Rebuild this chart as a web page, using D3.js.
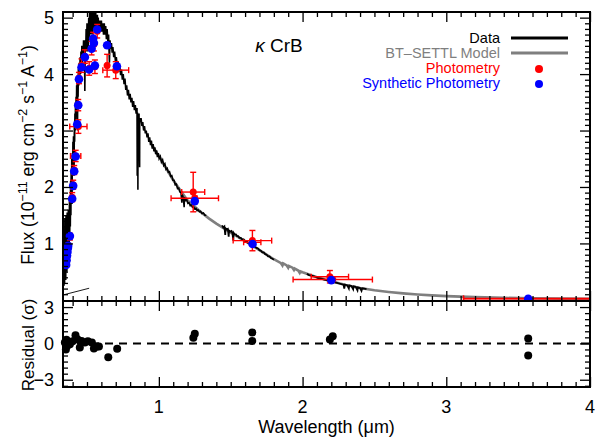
<!DOCTYPE html>
<html><head><meta charset="utf-8">
<script src="https://cdn.jsdelivr.net/npm/d3@7"></script>
<style>
body{margin:0;background:#fff;}
text{font-family:"Liberation Sans",Arial,Helvetica,sans-serif;}
</style></head>
<body><svg id="c" width="598" height="439"></svg>
<script>
// ---------- DATA ----------
const xTickLabels = ["1","2","3","4"];
const xTickValues = [1,2,3,4];
const yTickValues = [1,2,3,4,5];
const resTickValues = [-3,0,3];
const resTickLabels = ["\u22123","0","3"];

// observed spectrum (wavelength um, flux 1e-11)
const dataSpectrum = [
[0.340,0.25],[0.342,1.1],[0.344,0.3],[0.346,1.45],[0.348,0.5],[0.350,1.2],[0.352,0.35],[0.354,1.5],[0.356,0.6],[0.358,1.3],
[0.360,0.5],[0.362,1.55],[0.364,0.7],[0.366,1.2],[0.368,0.8],[0.370,1.6],[0.372,0.9],[0.374,1.4],[0.376,1.0],[0.378,1.8],
[0.380,1.2],[0.382,1.7],[0.384,1.3],[0.386,2.1],[0.388,1.5],[0.390,2.3],[0.392,1.9],[0.394,2.5],[0.396,1.7],[0.398,2.6],
[0.400,2.2],[0.402,2.8],[0.404,2.4],[0.406,2.9],[0.408,2.6],[0.410,2.2],[0.412,3.1],[0.414,2.8],[0.416,3.3],[0.418,3.0],
[0.420,3.5],[0.422,3.2],[0.424,3.6],[0.426,3.3],[0.428,3.8],[0.430,3.5],[0.432,3.9],[0.434,3.0],[0.436,3.9],[0.438,3.6],
[0.440,4.1],[0.443,3.8],[0.446,4.2],[0.449,3.9],[0.452,4.3],[0.455,4.0],[0.458,4.4],[0.461,4.1],[0.464,4.5],[0.467,4.2],
[0.470,4.5],[0.473,4.3],[0.476,4.6],[0.479,4.3],[0.482,4.6],[0.485,3.7],[0.488,4.6],[0.491,4.4],[0.494,4.8],[0.497,4.5],
[0.500,4.9],[0.503,4.4],[0.506,4.8],[0.509,4.5],[0.512,5.0],[0.515,4.6],[0.518,5.1],[0.521,4.7],[0.524,5.2],[0.527,4.7],
[0.530,5.3],[0.533,4.8],[0.536,5.2],[0.539,4.7],[0.542,5.1],[0.545,4.8],[0.548,5.25],[0.551,4.8],[0.554,5.1],[0.557,4.75],
[0.560,5.2],[0.563,4.8],[0.566,5.0],[0.569,4.75],[0.572,5.05],[0.575,4.75],[0.578,5.0],[0.581,4.75],[0.584,4.95],[0.587,4.75],
[0.590,4.95],[0.595,4.75],[0.600,4.95],[0.605,4.75],[0.610,4.9],[0.615,4.7],[0.620,4.9],[0.625,4.7],[0.630,4.85],[0.635,4.62],
[0.640,4.8],[0.645,4.58],[0.650,4.7],[0.656,4.2],[0.660,4.6],[0.665,4.45],[0.670,4.55],[0.675,4.38],[0.680,4.48],[0.686,4.3],
[0.692,4.4],[0.698,4.22],[0.704,4.3],[0.710,4.15],[0.716,4.22],[0.722,4.05],[0.728,4.15],[0.734,3.98],[0.740,4.08],[0.746,3.9],
[0.752,4.0],[0.758,3.82],[0.764,3.92],[0.770,3.72],[0.776,3.8],[0.782,3.62],[0.788,3.72],[0.794,3.55],[0.800,3.65],[0.806,3.5],
[0.812,3.58],[0.818,3.42],[0.824,3.52],[0.830,3.36],[0.836,3.45],[0.842,3.3],[0.848,3.4],[0.8495,2.2],[0.851,3.32],[0.8535,3.25],
[0.8542,1.95],[0.8548,3.3],[0.858,3.2],[0.862,3.3],[0.8662,2.35],[0.8668,3.22],[0.870,3.15],[0.876,3.22],[0.882,3.08],[0.888,3.15],
[0.894,3.0],[0.900,3.08],[0.906,2.95],[0.912,3.0],[0.918,2.88],[0.924,2.95],[0.930,2.8],[0.936,2.88],[0.942,2.74],[0.948,2.82],
[0.954,2.68],[0.960,2.76],[0.966,2.63],[0.972,2.7],[0.978,2.58],[0.984,2.65],[0.990,2.53],[0.996,2.6],[1.002,2.5],[1.010,2.54],
[1.018,2.44],[1.026,2.48],[1.034,2.38],[1.042,2.41],[1.050,2.31],[1.058,2.33],[1.066,2.26],[1.074,2.27],[1.082,2.19],[1.090,2.2],
[1.098,2.12],[1.106,2.12],[1.114,2.04],[1.122,2.05],[1.130,1.97],[1.138,1.98],[1.146,1.91],[1.154,1.9],[1.160,1.72],[1.162,1.87],
[1.170,1.81],[1.176,1.64],[1.178,1.82],[1.186,1.76],[1.194,1.77],[1.202,1.71],[1.210,1.72],[1.218,1.67],[1.226,1.68],[1.234,1.64],
[1.242,1.65],[1.250,1.61],[1.258,1.62],[1.266,1.58],[1.274,1.59],[1.282,1.56],[1.290,1.57],[1.300,1.53],[1.310,1.54],[1.320,1.5],
[1.330,1.5]
];
const dataSpectrum2 = [
[1.440,1.32],[1.448,1.28],[1.456,1.3],[1.462,1.15],[1.464,1.27],[1.472,1.25],[1.480,1.26],[1.486,1.12],[1.488,1.23],[1.496,1.21],
[1.504,1.22],[1.512,1.18],[1.518,1.05],[1.520,1.19],[1.528,1.16],[1.536,1.16],[1.544,1.13],[1.552,1.13],[1.560,1.1],[1.570,1.1],
[1.580,1.07],[1.590,1.07],[1.600,1.04],[1.610,1.04],[1.620,1.01],[1.630,1.01],[1.640,0.98],[1.650,0.98],[1.660,0.95],[1.670,0.94],
[1.680,0.92],[1.690,0.91],[1.700,0.88],[1.710,0.87],[1.720,0.84],[1.730,0.84],[1.740,0.81],[1.750,0.8],[1.760,0.77],[1.770,0.77],
[1.780,0.74],[1.790,0.73],[1.800,0.71]
];
const dataSpectrum3 = [
[2.030,0.46],[2.045,0.44],[2.060,0.43],[2.075,0.42],[2.090,0.41],[2.105,0.39],[2.120,0.38],[2.135,0.37],[2.150,0.36],[2.165,0.35],
[2.180,0.34],[2.195,0.33],[2.210,0.32],[2.225,0.31],[2.240,0.3],[2.255,0.29],[2.270,0.28],[2.285,0.27],[2.290,0.2],[2.295,0.27],
[2.310,0.26],[2.322,0.2],[2.325,0.255],[2.340,0.245],[2.352,0.19],[2.355,0.24],[2.370,0.23],[2.382,0.17],[2.385,0.22],[2.400,0.21],
[2.410,0.16],[2.415,0.205],[2.430,0.2],[2.445,0.19]
];
// BT-SETTL model
const modelSpectrum = [
[0.95,2.75],[1.0,2.55],[1.1,2.12],[1.2,1.76],[1.3,1.54],[1.35,1.44],[1.4,1.35],[1.45,1.27],[1.5,1.19],[1.6,1.04],[1.7,0.88],
[1.8,0.72],[1.85,0.65],[1.86,0.61],[1.865,0.645],[1.89,0.61],[1.90,0.57],[1.905,0.6],[1.93,0.57],[1.94,0.53],[1.945,0.555],
[1.97,0.52],[1.98,0.48],[1.985,0.505],[2.0,0.49],[2.1,0.4],[2.2,0.33],[2.3,0.265],[2.4,0.21],[2.5,0.17],[2.6,0.14],
[2.7,0.115],[2.8,0.095],[2.9,0.08],[3.0,0.066],[3.2,0.048],[3.4,0.036],[3.6,0.028],[3.8,0.022],[4.0,0.017]
];
// stray line segment in the original figure
const strayLine = [[0.335,0.088],[0.515,0.206]];

// Photometry: wavelength, flux, x-error, y-error
const photWave = [0.357,0.363,0.369,0.381,0.397,0.404,0.411,0.421,0.440,0.439,0.444,0.462,0.485,0.515,0.532,0.543,0.548,0.555,0.571,0.640,0.700,1.239,1.25,1.651,1.65,2.21,2.19,3.57,3.57];
const photFlux = [0.66,0.84,0.95,1.12,1.82,2.04,2.30,2.55,3.07,3.45,3.93,4.15,4.31,4.10,4.46,4.62,4.53,4.13,4.76,4.15,4.07,1.91,1.80,1.05,1.02,0.36,0.41,0.025,0.02];
const photXerr = [0.004,0.004,0.004,0.006,0.006,0.006,0.006,0.036,0.06,0.01,0.01,0.01,0.01,0.01,0.01,0.01,0.01,0.01,0.01,0.01,0.09,0.08,0.165,0.134,0.06,0.276,0.13,0.45,0.45];
const photYerr = [0.05,0.05,0.05,0.06,0.08,0.08,0.08,0.1,0.12,0.1,0.1,0.12,0.12,0.12,0.12,0.12,0.12,0.12,0.12,0.2,0.15,0.35,0.04,0.18,0.03,0.02,0.11,0.005,0.005];

// Synthetic photometry
const synWave = [0.355,0.358,0.361,0.364,0.367,0.369,0.381,0.397,0.404,0.411,0.421,0.432,0.439,0.444,0.462,0.485,0.515,0.532,0.543,0.548,0.555,0.571,0.640,0.708,1.25,1.652,2.20,3.57];
const synFlux = [0.62,0.70,0.78,0.85,0.92,0.96,1.13,1.79,2.02,2.28,2.54,3.11,3.45,3.91,4.12,4.30,4.08,4.45,4.63,4.55,4.15,4.79,4.51,4.14,1.75,0.99,0.35,0.02];

// Residuals (sigma)
const resWave = [0.346,0.353,0.357,0.363,0.369,0.381,0.400,0.420,0.435,0.450,0.462,0.485,0.506,0.534,0.548,0.570,0.583,0.648,0.710,1.24,1.25,1.65,1.65,2.19,2.21,3.57,3.57];
const resVal  = [0.08,-0.5,0.3,-0.2,0.1,-0.08,0.17,0.67,0.33,-0.33,0.2,0.08,0.17,0.08,-0.42,-0.25,-0.25,-1.14,-0.44,0.47,0.8,0.9,0.2,0.33,0.6,0.4,-1.0];

// ---------- DRAW ----------
const svg = d3.select("#c");
const L=63, R=590, T=12, M=301, B=387;
const x = d3.scaleLinear().domain([0.333,4]).range([L,R]);
const y = d3.scaleLinear().domain([-0.02,5.1]).range([M,T]);
const yr = d3.scaleLinear().domain([-3.6,3.5]).range([B,M]);

svg.append("defs").append("clipPath").attr("id","clipTop")
  .append("rect").attr("x",L).attr("y",T).attr("width",R-L).attr("height",M-T);

const topG = svg.append("g").attr("clip-path","url(#clipTop)");
const line = d3.line().x(d=>x(d[0])).y(d=>y(d[1]));

topG.append("path").datum(modelSpectrum).attr("d",line)
  .attr("fill","none").attr("stroke","#7f7f7f").attr("stroke-width",2.6);
[dataSpectrum,dataSpectrum2,dataSpectrum3].forEach((ds,i)=>{
  topG.append("path").datum(ds).attr("d",line)
    .attr("fill","none").attr("stroke","#000").attr("stroke-width",i===0?1.6:1.8).attr("stroke-linejoin","miter");
});
topG.append("path").datum(strayLine).attr("d",line).attr("fill","none").attr("stroke","#000").attr("stroke-width",0.9);

// photometry error bars
const phot = photWave.map((w,i)=>({w, f:photFlux[i], xe:photXerr[i], ye:photYerr[i]}));
const eb = topG.append("g").attr("stroke","#ff0000").attr("stroke-width",1.4);
const cap=3;
phot.forEach(p=>{
  const cx=x(p.w), cy=y(p.f);
  const x0=x(p.w-p.xe), x1=x(p.w+p.xe), y0=y(p.f-p.ye), y1=y(p.f+p.ye);
  eb.append("line").attr("x1",x0).attr("x2",x1).attr("y1",cy).attr("y2",cy);
  eb.append("line").attr("x1",x0).attr("x2",x0).attr("y1",cy-cap).attr("y2",cy+cap);
  eb.append("line").attr("x1",x1).attr("x2",x1).attr("y1",cy-cap).attr("y2",cy+cap);
  eb.append("line").attr("x1",cx).attr("x2",cx).attr("y1",y0).attr("y2",y1);
  eb.append("line").attr("x1",cx-cap).attr("x2",cx+cap).attr("y1",y0).attr("y2",y0);
  eb.append("line").attr("x1",cx-cap).attr("x2",cx+cap).attr("y1",y1).attr("y2",y1);
});
topG.append("g").selectAll("circle").data(phot).join("circle")
  .attr("cx",d=>x(d.w)).attr("cy",d=>y(d.f)).attr("r",3.5).attr("fill","#ff0000");
topG.append("g").selectAll("circle").data(synWave.map((w,i)=>[w,synFlux[i]])).join("circle")
  .attr("cx",d=>x(d[0])).attr("cy",d=>y(d[1])).attr("r",4.3).attr("fill","#0000ff");

// residual panel
svg.append("line").attr("x1",L).attr("x2",R).attr("y1",yr(0)).attr("y2",yr(0))
  .attr("stroke","#000").attr("stroke-width",2).attr("stroke-dasharray","8,6");
svg.append("g").selectAll("circle").data(resWave.map((w,i)=>[w,resVal[i]])).join("circle")
  .attr("cx",d=>x(d[0])).attr("cy",d=>yr(d[1])).attr("r",4).attr("fill","#000");

// axes ticks
function ticks(gSel, axisFn, scale, vals, size){
  const a = axisFn(scale).tickValues(vals).tickSize(size).tickFormat("");
  const g = svg.append("g").attr("transform",gSel).call(a);
  g.select(".domain").remove();
  g.selectAll("line").attr("stroke","#000").attr("stroke-width",1.3);
}
const xMinor = d3.range(4,41).map(v=>v/10).filter(v=>v>0.333 && Math.abs(v-Math.round(v))>1e-6);
const yMinor = d3.range(1,51).map(v=>v/10).filter(v=>Math.abs(v-Math.round(v))>1e-6);
const rMinor = d3.range(-7,8).map(v=>v/2).filter(v=>v%3!==0 && v>-3.6 && v<3.5);
[[`translate(0,${T})`,d3.axisTop],[`translate(0,${M})`,d3.axisBottom],[`translate(0,${M})`,d3.axisTop],[`translate(0,${B})`,d3.axisBottom]]
  .forEach(([tr,fn])=>{ ticks(tr,fn,x,xTickValues,-10); ticks(tr,fn,x,xMinor,-5); });
ticks(`translate(${L},0)`,d3.axisLeft,y,yTickValues,-10);
ticks(`translate(${L},0)`,d3.axisLeft,y,yMinor,-5);
ticks(`translate(${R},0)`,d3.axisRight,y,yTickValues,-10);
ticks(`translate(${R},0)`,d3.axisRight,y,yMinor,-5);
ticks(`translate(${L},0)`,d3.axisLeft,yr,resTickValues,-10);
ticks(`translate(${L},0)`,d3.axisLeft,yr,rMinor,-5);
ticks(`translate(${R},0)`,d3.axisRight,yr,resTickValues,-10);
ticks(`translate(${R},0)`,d3.axisRight,yr,rMinor,-5);

// frames
svg.append("rect").attr("x",L).attr("y",T).attr("width",R-L).attr("height",M-T)
  .attr("fill","none").attr("stroke","#000").attr("stroke-width",2);
svg.append("rect").attr("x",L).attr("y",M).attr("width",R-L).attr("height",B-M)
  .attr("fill","none").attr("stroke","#000").attr("stroke-width",2);

// tick labels
const fs=18;
xTickValues.forEach((v,i)=>{
  svg.append("text").attr("x",x(v)).attr("y",B+26).attr("text-anchor","middle")
    .attr("font-size",fs).text(xTickLabels[i]);
});
yTickValues.forEach(v=>{
  svg.append("text").attr("x",L-9).attr("y",y(v)+6.5).attr("text-anchor","end")
    .attr("font-size",fs).text(String(v));
});
resTickValues.forEach((v,i)=>{
  svg.append("text").attr("x",L-9).attr("y",yr(v)+6.5).attr("text-anchor","end")
    .attr("font-size",fs).text(resTickLabels[i]);
});

// axis titles
svg.append("text").attr("x",(L+R)/2).attr("y",433).attr("text-anchor","middle")
  .attr("font-size",18).text("Wavelength (\u03bcm)");
const yl = svg.append("text").attr("transform","translate(34,155) rotate(-90)")
  .attr("text-anchor","middle").attr("font-size",17.5);
const parts = [["Flux (10",0],["\u221211",1],[" erg cm",0],["\u22122",1],[" s",0],["\u22121",1],[" A",0],["\u22121",1],[")",0]];
parts.forEach(([t,s])=>{
  const ts = yl.append("tspan").text(t);
  if(s){ ts.attr("font-size",12.5).attr("baseline-shift","55%"); }
});
svg.append("text").attr("transform","translate(34,345) rotate(-90)")
  .attr("text-anchor","middle").attr("font-size",17).text("Residual (\u03c3)");

// title
const tt = svg.append("text").attr("x",279).attr("y",52).attr("text-anchor","middle").attr("font-size",19);
tt.append("tspan").attr("font-style","italic").text("\u03ba");
tt.append("tspan").text(" CrB");

// legend
const legend = [
  {label:"Data", color:"#000", type:"line"},
  {label:"BT\u2013SETTL Model", color:"#7f7f7f", type:"line"},
  {label:"Photometry", color:"#ff0000", type:"dot"},
  {label:"Synthetic Photometry", color:"#0000ff", type:"dot"}
];
legend.forEach((d,i)=>{
  const yy = 38 + i*15;
  svg.append("text").attr("x",500).attr("y",yy+5).attr("text-anchor","end")
    .attr("font-size",14.5).attr("fill",d.color).text(d.label);
  if(d.type==="line"){
    svg.append("line").attr("x1",511).attr("x2",568).attr("y1",yy).attr("y2",yy)
      .attr("stroke",d.color).attr("stroke-width",3.2);
  } else {
    svg.append("circle").attr("cx",539).attr("cy",yy+1).attr("r",4).attr("fill",d.color);
  }
});
</script></body></html>
